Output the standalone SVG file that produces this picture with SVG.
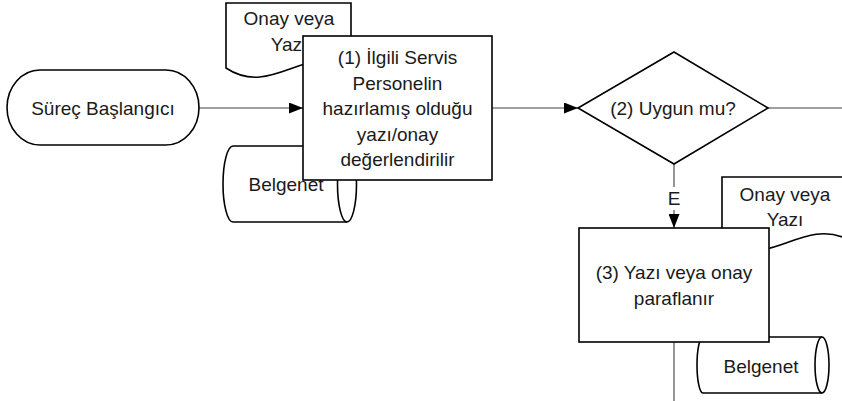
<svg xmlns="http://www.w3.org/2000/svg" width="842" height="401" viewBox="0 0 842 401">
<style>
.s{fill:#fff;stroke:#000;stroke-width:1.6}
.c{fill:none;stroke:#404040;stroke-width:1.1}
text{font-family:"Liberation Sans",Arial,sans-serif;font-size:19px;fill:#1a1a1a;text-anchor:middle}
</style>
<defs>
<marker id="ah" markerWidth="14" markerHeight="11" refX="14" refY="5.5" orient="auto" markerUnits="userSpaceOnUse">
<path d="M0,0 L14,5.5 L0,11 Z" fill="#000"/>
</marker>
</defs>
<rect width="842" height="401" fill="#fff"/>
<g id="connectors">
<line class="c" x1="199" y1="108" x2="303" y2="108" marker-end="url(#ah)"/>
<line class="c" x1="492" y1="108" x2="578" y2="108" marker-end="url(#ah)"/>
<line class="c" x1="768" y1="108" x2="842" y2="108"/>
<line class="c" x1="674" y1="164" x2="674" y2="187"/>
<line class="c" x1="674" y1="210" x2="674" y2="228" marker-end="url(#ah)"/>
<text x="674" y="205">E</text>
<line class="c" x1="674" y1="342" x2="674" y2="401"/>
</g>
<g id="start">
<rect class="s" x="7" y="70" width="192" height="75" rx="33" ry="37.5"/>
<text x="103" y="115">Süreç Başlangıcı</text>
</g>
<g id="doc1">
<path class="s" d="M226,3 H351 V65 C306,43 271,98 226,68 Z"/>
<text x="289" y="25">Onay veya</text>
<text x="289" y="51">Yazı</text>
</g>
<g id="db1">
<path class="s" d="M233,146 H347 A9.5,38 0 0 1 347,222 H233 A10,38 0 0 1 233,146 Z"/>
<path class="s" fill="none" d="M347,146 A9.5,38 0 0 0 347,222"/>
<text x="286" y="191">Belgenet</text>
</g>
<g id="step1">
<rect class="s" x="303" y="36" width="189" height="144"/>
<text x="397.5" y="64">(1) İlgili Servis</text>
<text x="397.5" y="89.5">Personelin</text>
<text x="397.5" y="115">hazırlamış olduğu</text>
<text x="397.5" y="140.5">yazı/onay</text>
<text x="397.5" y="166">değerlendirilir</text>
</g>
<g id="decision2">
<path class="s" d="M674,52 L768,108 L674,164 L578,108 Z"/>
<text x="673" y="115">(2) Uygun mu?</text>
</g>
<g id="doc2">
<path class="s" d="M722,177 H847 V239 C802,217 767,272 722,242 Z"/>
<text x="785" y="201">Onay veya</text>
<text x="785" y="226">Yazı</text>
</g>
<g id="db2">
<path class="s" d="M703,337 H822 A7,28 0 0 1 822,393 H703 A6,28 0 0 1 703,337 Z"/>
<path class="s" fill="none" d="M822,337 A7,28 0 0 0 822,393"/>
<text x="761" y="373">Belgenet</text>
</g>
<g id="step3">
<rect class="s" x="579" y="228" width="190" height="114"/>
<text x="674" y="279">(3) Yazı veya onay</text>
<text x="674" y="304.5">paraflanır</text>
</g>
</svg>
